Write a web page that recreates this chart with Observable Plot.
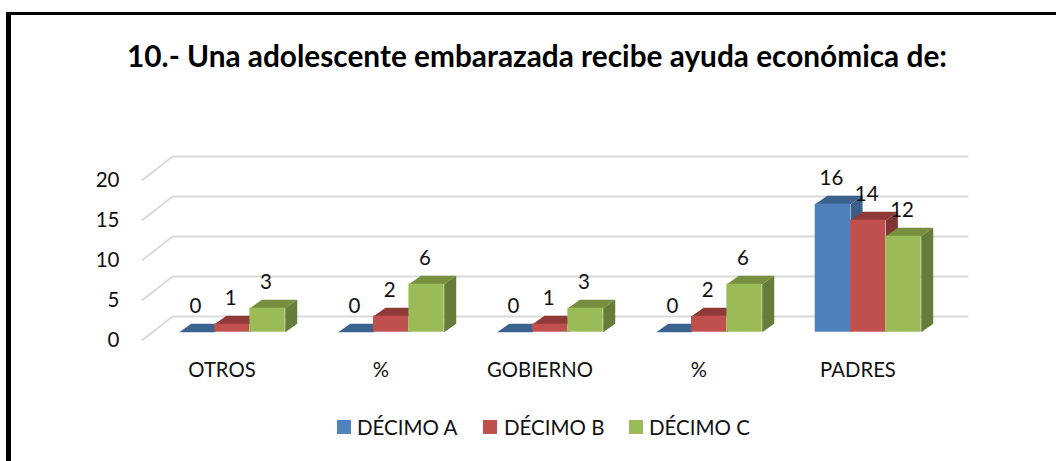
<!DOCTYPE html>
<html lang="es">
<head>
<meta charset="utf-8">
<script src="https://cdn.jsdelivr.net/npm/d3@7"></script>
<script src="https://cdn.jsdelivr.net/npm/@observablehq/plot@0.6"></script>
<style>
  html, body { margin: 0; padding: 0; background: #fff; }
  #page { position: relative; width: 1056px; height: 461px; overflow: hidden; font-family: Lato, "Open Sans", sans-serif; color: #000; }
  #frame { position: absolute; left: 6px; top: 12px; width: 1100px; height: 500px; border-left: 5px solid #000; border-top: 3px solid #000; box-sizing: border-box; }
  #title { position: absolute; left: 100px; top: 36px; width: 874px; text-align: center; font-weight: 700; font-size: 29.8px; line-height: 40px; white-space: nowrap; }
  #chart { position: absolute; left: 0; top: 130px; }
  .sw { position: absolute; top: 420px; width: 14px; height: 14px; }
  .lg { position: absolute; top: 415px; font-size: 20.5px; line-height: 24px; white-space: nowrap; color: #111; }
</style>
</head>
<body>
<div id="page">
  <div id="frame"></div>
  <div id="title">10.- Una adolescente embarazada recibe ayuda económica de:</div>
  <div id="chart"></div>
  <div id="legend"></div>
</div>
<script>
const categories = ["OTROS", "%", "GOBIERNO", "%", "PADRES"];
const seriesNames = ["DÉCIMO A", "DÉCIMO B", "DÉCIMO C"];
const decimoA = [0, 0, 0, 0, 16];
const decimoB = [1, 2, 1, 2, 14];
const decimoC = [3, 6, 3, 6, 12];
const yTicks = [0, 5, 10, 15, 20];

const frontColors = ["#4F81BD", "#C0504D", "#9BBB59"];
const topColors = ["#3C628F", "#8E3A38", "#76903F"];
const sideColors = ["#3A5F8B", "#7F3533", "#667D3A"];

// Oblique projection, in data units
const floorDx = 0.1887, floorDy = 2.94;
const barStart = 0.231, barW = 0.2222, barBase = 0.975;
const barDx = 0.0755, barDy = 1.06;

const values = [decimoA, decimoB, decimoC];

const wall = yTicks.flatMap(v => [
  {id: v, x: 0, y: v},
  {id: v, x: floorDx, y: v + floorDy},
  {id: v, x: 5 + floorDx, y: v + floorDy}
]);

function bars(s) {
  return categories.map((c, i) => {
    const x1 = i + barStart + s * barW;
    return {id: i, c, value: values[s][i], x1, x2: x1 + barW, y1: barBase, y2: barBase + values[s][i]};
  });
}
const topFace = b => [[b.x1, b.y2], [b.x2, b.y2], [b.x2 + barDx, b.y2 + barDy], [b.x1 + barDx, b.y2 + barDy]]
  .map(([x, y]) => ({id: b.id, x, y}));
const sideFace = b => [[b.x2, b.y1], [b.x2 + barDx, b.y1 + barDy], [b.x2 + barDx, b.y2 + barDy], [b.x2, b.y2]]
  .map(([x, y]) => ({id: b.id, x, y}));

const barMarks = [0, 1, 2].flatMap(s => {
  const bs = bars(s);
  return [
    Plot.line(bs.flatMap(topFace), {x: "x", y: "y", z: "id", fill: topColors[s], stroke: "none"}),
    Plot.line(bs.flatMap(sideFace), {x: "x", y: "y", z: "id", fill: sideColors[s], stroke: "none"}),
    Plot.rect(bs, {x1: "x1", x2: "x2", y1: "y1", y2: "y2", fill: frontColors[s]})
  ];
});

const labelMarks = [0, 1, 2].map(s =>
  Plot.text(bars(s), {
    x: b => (b.x1 + b.x2) / 2, y: "y2", text: b => String(b.value),
    dy: -25.5, dx: -1.5, fontSize: 20.5, fill: "#111"
  })
);

const chart = Plot.plot({
  width: 1056, height: 250,
  marginLeft: 142, marginRight: 89, marginTop: 26, marginBottom: 40.5,
  style: {fontFamily: "Lato, 'Open Sans', sans-serif", background: "transparent", color: "#111"},
  x: {type: "linear", domain: [0, 5 + floorDx]},
  y: {type: "linear", domain: [0, 20 + floorDy]},
  marks: [
    Plot.line(wall, {x: "x", y: "y", z: "id", stroke: "#D9D9D9", strokeWidth: 1.9, curve: "linear"}),
    ...barMarks,
    ...labelMarks,
    Plot.axisY({ticks: yTicks, tickSize: 0, tickPadding: 23, fontSize: 20.5, dy: 0.5, label: null, tickFormat: d => String(d)}),
    Plot.axisX({ticks: categories.map((c, i) => i + 0.5), tickSize: 0, tickPadding: 23, fontSize: 20.3, label: null,
      tickFormat: d => categories[Math.round(d - 0.5)]})
  ]
});
document.getElementById("chart").appendChild(chart);

const swatchX = [337, 483, 629];
const labelX = [357, 504, 649];
const legend = document.getElementById("legend");
seriesNames.forEach((name, i) => {
  const sw = document.createElement("div");
  sw.className = "sw"; sw.style.left = swatchX[i] + "px"; sw.style.background = frontColors[i];
  const t = document.createElement("div");
  t.className = "lg"; t.style.left = labelX[i] + "px"; t.textContent = name;
  legend.append(sw, t);
});
</script>
</body>
</html>
